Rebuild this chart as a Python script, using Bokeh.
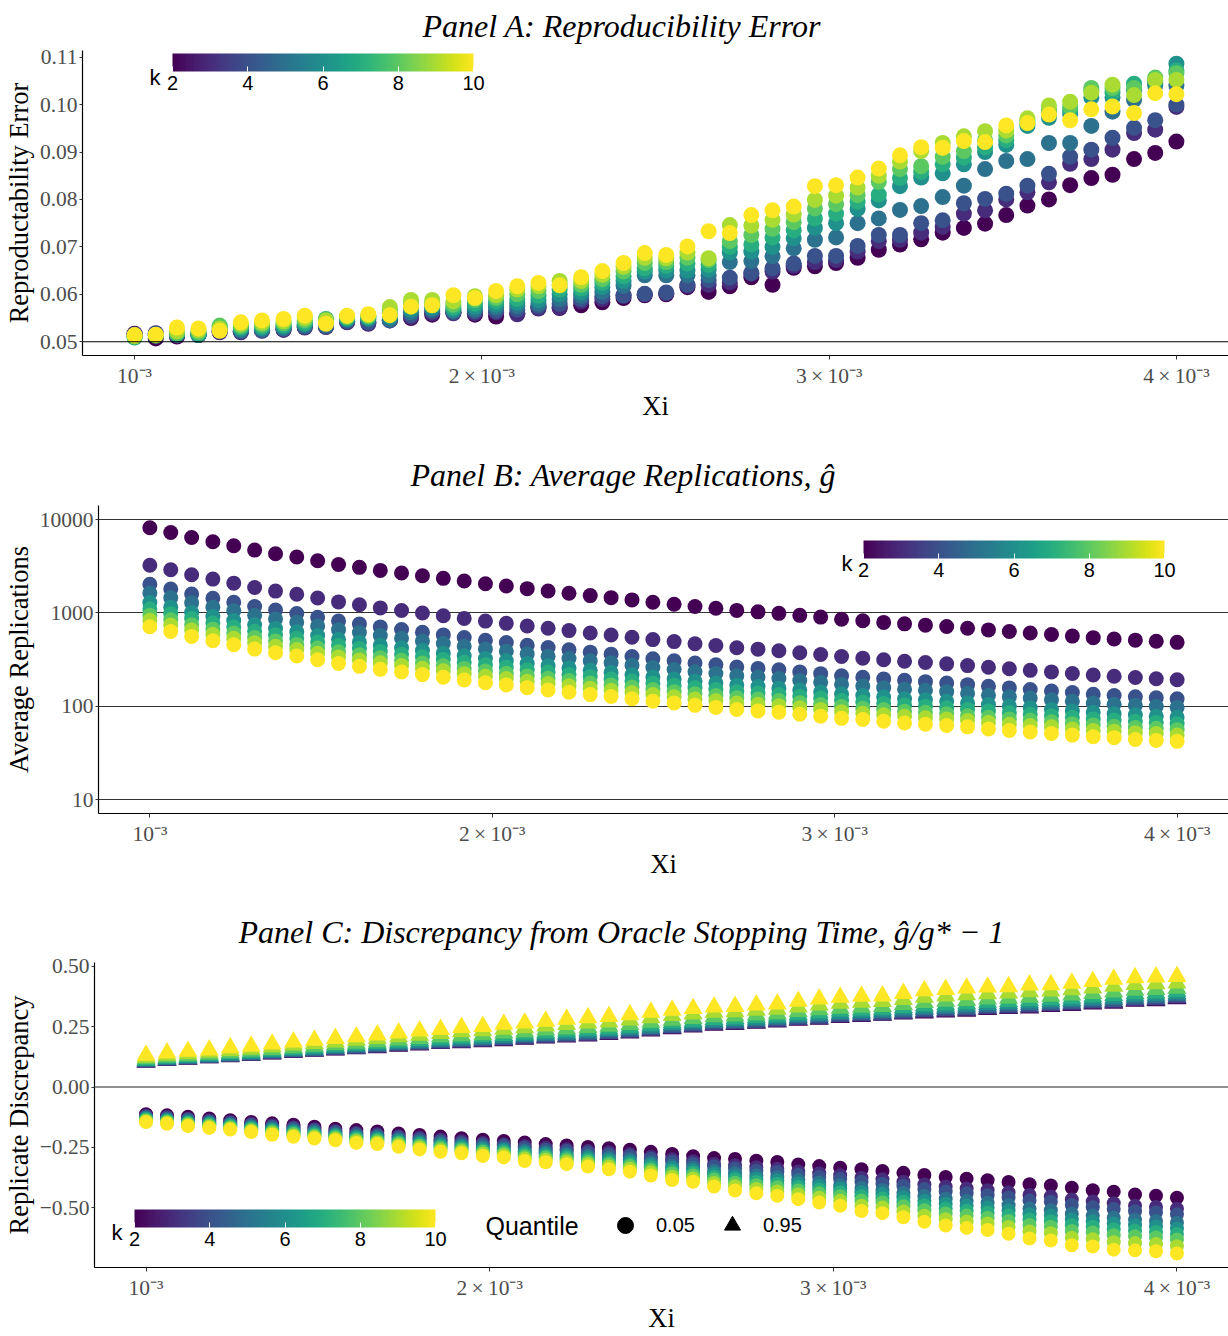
from bokeh.plotting import figure
from bokeh.models import (ColumnDataSource, Range1d, FixedTicker, CustomJSTickFormatter,
                          NumeralTickFormatter, ColorBar, LinearColorMapper, Span, Label,
                          Legend, LegendItem)
from bokeh.palettes import Viridis256
from bokeh.embed import file_html
from bokeh.resources import INLINE

# ---------------- data ----------------
XI = [0.001000, 0.001061, 0.001122, 0.001184, 0.001245, 0.001306, 0.001367, 0.001429, 0.001490, 0.001551,
      0.001612, 0.001673, 0.001735, 0.001796, 0.001857, 0.001918, 0.001980, 0.002041, 0.002102, 0.002163,
      0.002224, 0.002286, 0.002347, 0.002408, 0.002469, 0.002531, 0.002592, 0.002653, 0.002714, 0.002776,
      0.002837, 0.002898, 0.002959, 0.003020, 0.003082, 0.003143, 0.003204, 0.003265, 0.003327, 0.003388,
      0.003449, 0.003510, 0.003571, 0.003633, 0.003694, 0.003755, 0.003816, 0.003878, 0.003939, 0.004000]
K_LEVELS = [2, 3, 4, 5, 6, 7, 8, 9, 10]
CB_TICKS = [2, 4, 6, 8, 10]
XTICKS = [0.001, 0.002, 0.003, 0.004]
XTICK_LABELS = ["10\u207b\u00b3", "2\u2009\u00d7\u200910\u207b\u00b3",
                "3\u2009\u00d7\u200910\u207b\u00b3", "4\u2009\u00d7\u200910\u207b\u00b3"]
ERR_TICKS = [0.05, 0.06, 0.07, 0.08, 0.09, 0.10, 0.11]
REP_TICKS = [10, 100, 1000, 10000]
DISC_TICKS = [-0.50, -0.25, 0.0, 0.25, 0.50]
TARGET_ERROR = 0.05
ZERO_LINE = 0.0
QUANTILES = ["0.05", "0.95"]
TITLE_A = "Panel A: Reproducibility Error"
TITLE_B = "Panel B: Average Replications, \u011d"
TITLE_C = "Panel C: Discrepancy from Oracle Stopping Time, \u011d/g* \u2212 1"

# Panel A: reproducibility error
ERR_K2 = [0.0517, 0.0507, 0.0511, 0.0514, 0.0521, 0.0522, 0.0524, 0.0526, 0.0531, 0.0532,
          0.0542, 0.0540, 0.0546, 0.0550, 0.0557, 0.0562, 0.0557, 0.0553, 0.0560, 0.0572,
          0.0571, 0.0577, 0.0583, 0.0592, 0.0598, 0.0600, 0.0615, 0.0605, 0.0617, 0.0636,
          0.0620, 0.0656, 0.0659, 0.0666, 0.0677, 0.0694, 0.0705, 0.0716, 0.0730, 0.0740,
          0.0749, 0.0767, 0.0787, 0.0800, 0.0830, 0.0845, 0.0852, 0.0885, 0.0898, 0.0922]
ERR_K3 = [0.0516, 0.0518, 0.0513, 0.0515, 0.0520, 0.0520, 0.0523, 0.0525, 0.0530, 0.0531,
          0.0541, 0.0538, 0.0545, 0.0552, 0.0560, 0.0560, 0.0560, 0.0562, 0.0558, 0.0570,
          0.0572, 0.0585, 0.0590, 0.0598, 0.0600, 0.0602, 0.0618, 0.0620, 0.0625, 0.0643,
          0.0648, 0.0660, 0.0668, 0.0672, 0.0690, 0.0712, 0.0715, 0.0730, 0.0742, 0.0770,
          0.0777, 0.0800, 0.0815, 0.0836, 0.0875, 0.0885, 0.0905, 0.0940, 0.0947, 0.0995]
ERR_K4 = [0.0515, 0.0517, 0.0514, 0.0515, 0.0522, 0.0522, 0.0524, 0.0527, 0.0532, 0.0532,
          0.0543, 0.0541, 0.0545, 0.0556, 0.0564, 0.0562, 0.0564, 0.0565, 0.0568, 0.0575,
          0.0580, 0.0590, 0.0596, 0.0597, 0.0601, 0.0604, 0.0620, 0.0630, 0.0635, 0.0645,
          0.0655, 0.0665, 0.0681, 0.0681, 0.0702, 0.0725, 0.0725, 0.0750, 0.0756, 0.0792,
          0.0801, 0.0812, 0.0829, 0.0854, 0.0890, 0.0905, 0.0930, 0.0951, 0.0967, 0.1000]
ERR_K5 = [0.0514, 0.0515, 0.0515, 0.0514, 0.0524, 0.0524, 0.0526, 0.0529, 0.0534, 0.0535,
          0.0546, 0.0547, 0.0547, 0.0562, 0.0568, 0.0565, 0.0568, 0.0572, 0.0575, 0.0580,
          0.0590, 0.0597, 0.0605, 0.0618, 0.0640, 0.0640, 0.0640, 0.0640, 0.0668, 0.0670,
          0.0680, 0.0697, 0.0715, 0.0720, 0.0750, 0.0760, 0.0778, 0.0786, 0.0805, 0.0829,
          0.0864, 0.0881, 0.0885, 0.0919, 0.0919, 0.0955, 0.0985, 0.1010, 0.1040, 0.1040]
ERR_K6 = [0.0512, 0.0514, 0.0516, 0.0515, 0.0527, 0.0527, 0.0529, 0.0532, 0.0537, 0.0540,
          0.0548, 0.0550, 0.0552, 0.0568, 0.0572, 0.0568, 0.0574, 0.0578, 0.0582, 0.0588,
          0.0600, 0.0604, 0.0615, 0.0628, 0.0648, 0.0650, 0.0650, 0.0652, 0.0688, 0.0690,
          0.0700, 0.0718, 0.0740, 0.0750, 0.0780, 0.0798, 0.0828, 0.0846, 0.0855, 0.0874,
          0.0900, 0.0915, 0.0955, 0.0972, 0.0980, 0.1015, 0.1015, 0.1030, 0.1045, 0.1086]
ERR_K7 = [0.0509, 0.0513, 0.0517, 0.0517, 0.0532, 0.0530, 0.0532, 0.0535, 0.0540, 0.0548,
          0.0550, 0.0552, 0.0560, 0.0575, 0.0576, 0.0572, 0.0580, 0.0585, 0.0590, 0.0597,
          0.0610, 0.0612, 0.0624, 0.0638, 0.0655, 0.0660, 0.0665, 0.0662, 0.0700, 0.0705,
          0.0720, 0.0735, 0.0760, 0.0770, 0.0795, 0.0810, 0.0845, 0.0858, 0.0874, 0.0888,
          0.0910, 0.0925, 0.0960, 0.0982, 0.0988, 0.1030, 0.1025, 0.1044, 0.1050, 0.1072]
ERR_K8 = [0.0511, 0.0513, 0.0518, 0.0520, 0.0534, 0.0533, 0.0536, 0.0539, 0.0545, 0.0547,
          0.0552, 0.0554, 0.0568, 0.0582, 0.0582, 0.0578, 0.0588, 0.0592, 0.0600, 0.0607,
          0.0620, 0.0620, 0.0632, 0.0648, 0.0666, 0.0668, 0.0677, 0.0672, 0.0712, 0.0725,
          0.0738, 0.0752, 0.0781, 0.0790, 0.0809, 0.0837, 0.0864, 0.0870, 0.0890, 0.0902,
          0.0925, 0.0935, 0.0966, 0.0990, 0.0995, 0.1035, 0.1035, 0.1035, 0.1057, 0.1066]
ERR_K9 = [0.0512, 0.0514, 0.0522, 0.0524, 0.0528, 0.0537, 0.0540, 0.0543, 0.0550, 0.0545,
          0.0554, 0.0556, 0.0573, 0.0588, 0.0588, 0.0585, 0.0596, 0.0598, 0.0610, 0.0617,
          0.0628, 0.0628, 0.0641, 0.0658, 0.0677, 0.0676, 0.0688, 0.0676, 0.0746, 0.0745,
          0.0757, 0.0768, 0.0799, 0.0808, 0.0825, 0.0850, 0.0880, 0.0902, 0.0919, 0.0933,
          0.0944, 0.0945, 0.0971, 0.0998, 0.1006, 0.1025, 0.1042, 0.1020, 0.1052, 0.1052]
ERR_K10 = [0.0514, 0.0515, 0.0530, 0.0528, 0.0523, 0.0541, 0.0545, 0.0548, 0.0555, 0.0538,
           0.0555, 0.0558, 0.0556, 0.0574, 0.0577, 0.0598, 0.0592, 0.0607, 0.0617, 0.0624,
           0.0619, 0.0636, 0.0649, 0.0666, 0.0687, 0.0683, 0.0701, 0.0733, 0.0729, 0.0767,
           0.0777, 0.0785, 0.0828, 0.0830, 0.0846, 0.0865, 0.0893, 0.0910, 0.0909, 0.0923,
           0.0921, 0.0956, 0.0961, 0.0979, 0.0967, 0.0990, 0.0996, 0.0982, 0.1024, 0.1022]

# Panel B: average replications
REP_K2 = [8150, 7260, 6420, 5770, 5230, 4700, 4300, 3960, 3610, 3300,
          3070, 2850, 2670, 2500, 2340, 2190, 2050, 1940, 1815, 1715,
          1620, 1530, 1455, 1375, 1300, 1236, 1170, 1120, 1062, 1025,
          988, 940, 900, 855, 822, 790, 762, 738, 714, 684,
          656, 632, 608, 585, 563, 542, 525, 510, 496, 483]
REP_K3 = [3240, 2890, 2560, 2300, 2080, 1870, 1710, 1580, 1440, 1310,
          1220, 1130, 1060, 995, 931, 872, 816, 772, 722, 683,
          645, 609, 579, 547, 517, 492, 466, 446, 423, 408,
          393, 374, 358, 340, 327, 314, 303, 294, 284, 272,
          261, 252, 242, 233, 224, 216, 209, 203, 197, 192]
REP_K4 = [2020, 1800, 1590, 1430, 1300, 1170, 1070, 982, 895, 818,
          761, 707, 662, 620, 580, 543, 508, 481, 450, 425,
          402, 379, 361, 341, 322, 307, 290, 278, 263, 254,
          245, 233, 223, 212, 204, 196, 189, 183, 177, 170,
          163, 157, 151, 145, 140, 134, 130, 126, 123, 120]
REP_K5 = [1630, 1450, 1280, 1150, 1050, 940, 860, 792, 722, 660,
          614, 570, 534, 500, 468, 438, 410, 388, 363, 343,
          324, 306, 291, 275, 260, 247, 234, 224, 212, 205,
          198, 188, 180, 171, 164, 158, 152, 148, 143, 137,
          131, 126, 122, 117, 113, 108, 105, 102, 99, 97]
REP_K6 = [1290, 1150, 1010, 912, 826, 743, 679, 626, 570, 521,
          485, 450, 422, 395, 370, 346, 324, 307, 287, 271,
          256, 242, 230, 217, 205, 195, 185, 177, 168, 162,
          156, 149, 142, 135, 130, 125, 120, 117, 113, 108,
          104, 100, 96, 92, 89, 86, 83, 81, 78, 76]
REP_K7 = [1100, 980, 867, 779, 706, 635, 581, 535, 487, 446,
          414, 385, 360, 338, 316, 296, 277, 262, 245, 232,
          219, 207, 196, 186, 176, 167, 158, 151, 143, 138,
          133, 127, 122, 115, 111, 107, 103, 100, 96, 92,
          89, 85, 82, 79, 76, 73, 71, 69, 67, 65]
REP_K8 = [945, 842, 745, 669, 607, 545, 499, 459, 419, 383,
          356, 331, 310, 290, 271, 254, 238, 225, 211, 199,
          188, 177, 169, 160, 151, 143, 136, 130, 123, 119,
          115, 109, 104, 99, 95, 92, 88, 86, 83, 79,
          76, 73, 71, 68, 65, 63, 61, 59, 58, 56]
REP_K9 = [831, 741, 655, 589, 533, 479, 439, 404, 368, 337,
          313, 291, 272, 255, 239, 223, 209, 198, 185, 175,
          165, 156, 148, 140, 133, 126, 119, 114, 108, 105,
          101, 96, 92, 87, 84, 81, 78, 75, 73, 70,
          67, 64, 62, 60, 57, 55, 54, 52, 51, 49]
REP_K10 = [709, 632, 559, 502, 455, 409, 374, 345, 314, 287,
           267, 248, 232, 218, 204, 191, 178, 169, 158, 149,
           141, 133, 127, 120, 113, 108, 102, 97, 92, 89,
           86, 82, 78, 74, 72, 69, 66, 64, 62, 60,
           57, 55, 53, 51, 49, 47, 46, 44, 43, 42]

# Panel C: discrepancy, 0.05 quantile (circles)
Q05_K2 = [-0.112, -0.117, -0.123, -0.130, -0.137, -0.144, -0.150, -0.156, -0.164, -0.172,
          -0.178, -0.184, -0.192, -0.198, -0.205, -0.212, -0.218, -0.223, -0.229, -0.236,
          -0.242, -0.248, -0.253, -0.259, -0.268, -0.277, -0.286, -0.294, -0.298, -0.305,
          -0.310, -0.320, -0.327, -0.334, -0.340, -0.347, -0.355, -0.364, -0.372, -0.379,
          -0.386, -0.393, -0.402, -0.407, -0.417, -0.427, -0.433, -0.445, -0.450, -0.458]
Q05_K3 = [-0.119, -0.124, -0.131, -0.138, -0.145, -0.152, -0.159, -0.166, -0.174, -0.182,
          -0.189, -0.194, -0.203, -0.210, -0.218, -0.224, -0.231, -0.237, -0.244, -0.251,
          -0.257, -0.264, -0.270, -0.277, -0.288, -0.299, -0.307, -0.318, -0.324, -0.332,
          -0.338, -0.349, -0.357, -0.365, -0.375, -0.382, -0.392, -0.403, -0.412, -0.420,
          -0.427, -0.436, -0.447, -0.453, -0.465, -0.474, -0.481, -0.491, -0.496, -0.504]
Q05_K4 = [-0.122, -0.128, -0.134, -0.142, -0.149, -0.157, -0.164, -0.171, -0.179, -0.186,
          -0.194, -0.200, -0.209, -0.216, -0.224, -0.231, -0.238, -0.243, -0.252, -0.259,
          -0.265, -0.272, -0.279, -0.286, -0.297, -0.309, -0.318, -0.329, -0.337, -0.346,
          -0.352, -0.363, -0.372, -0.381, -0.392, -0.400, -0.410, -0.422, -0.432, -0.440,
          -0.448, -0.457, -0.470, -0.475, -0.488, -0.497, -0.505, -0.514, -0.519, -0.527]
Q05_K5 = [-0.127, -0.133, -0.140, -0.148, -0.155, -0.163, -0.171, -0.179, -0.186, -0.194,
          -0.202, -0.207, -0.217, -0.225, -0.233, -0.240, -0.248, -0.254, -0.264, -0.270,
          -0.277, -0.284, -0.292, -0.300, -0.312, -0.326, -0.334, -0.347, -0.357, -0.366,
          -0.373, -0.385, -0.395, -0.405, -0.418, -0.426, -0.438, -0.451, -0.462, -0.471,
          -0.479, -0.489, -0.503, -0.510, -0.524, -0.532, -0.541, -0.549, -0.554, -0.562]
Q05_K6 = [-0.130, -0.136, -0.144, -0.151, -0.158, -0.167, -0.176, -0.184, -0.191, -0.198,
          -0.207, -0.213, -0.222, -0.231, -0.240, -0.246, -0.255, -0.260, -0.271, -0.277,
          -0.284, -0.293, -0.301, -0.309, -0.322, -0.336, -0.344, -0.359, -0.370, -0.379,
          -0.387, -0.399, -0.410, -0.420, -0.435, -0.443, -0.456, -0.471, -0.483, -0.491,
          -0.499, -0.511, -0.526, -0.532, -0.548, -0.555, -0.565, -0.572, -0.577, -0.585]
Q05_K7 = [-0.133, -0.140, -0.148, -0.155, -0.162, -0.171, -0.181, -0.189, -0.196, -0.203,
          -0.212, -0.218, -0.228, -0.237, -0.246, -0.252, -0.262, -0.267, -0.279, -0.285,
          -0.292, -0.301, -0.310, -0.318, -0.332, -0.347, -0.355, -0.371, -0.383, -0.393,
          -0.401, -0.414, -0.425, -0.436, -0.452, -0.461, -0.475, -0.490, -0.503, -0.512,
          -0.520, -0.532, -0.548, -0.555, -0.572, -0.578, -0.589, -0.595, -0.600, -0.608]
Q05_K8 = [-0.137, -0.143, -0.152, -0.159, -0.166, -0.176, -0.185, -0.194, -0.201, -0.208,
          -0.218, -0.223, -0.233, -0.243, -0.252, -0.259, -0.268, -0.274, -0.287, -0.292,
          -0.300, -0.309, -0.318, -0.327, -0.342, -0.358, -0.366, -0.383, -0.396, -0.406,
          -0.415, -0.428, -0.440, -0.452, -0.470, -0.478, -0.493, -0.510, -0.523, -0.532,
          -0.541, -0.554, -0.571, -0.578, -0.596, -0.602, -0.613, -0.618, -0.623, -0.631]
Q05_K9 = [-0.141, -0.147, -0.156, -0.164, -0.171, -0.181, -0.191, -0.200, -0.207, -0.214,
          -0.224, -0.229, -0.240, -0.250, -0.260, -0.266, -0.276, -0.282, -0.296, -0.301,
          -0.309, -0.318, -0.329, -0.338, -0.353, -0.371, -0.378, -0.397, -0.411, -0.422,
          -0.432, -0.445, -0.458, -0.471, -0.491, -0.499, -0.515, -0.533, -0.547, -0.556,
          -0.565, -0.579, -0.598, -0.605, -0.624, -0.630, -0.642, -0.646, -0.650, -0.659]
Q05_K10 = [-0.145, -0.152, -0.161, -0.169, -0.176, -0.186, -0.197, -0.206, -0.213, -0.220,
           -0.231, -0.236, -0.247, -0.258, -0.268, -0.274, -0.285, -0.291, -0.306, -0.311,
           -0.319, -0.329, -0.340, -0.350, -0.366, -0.385, -0.392, -0.412, -0.428, -0.440,
           -0.450, -0.464, -0.478, -0.491, -0.513, -0.522, -0.539, -0.558, -0.573, -0.583,
           -0.592, -0.607, -0.627, -0.635, -0.655, -0.660, -0.673, -0.676, -0.680, -0.689]

# Panel C: discrepancy, 0.95 quantile (triangles)
Q95_K2 = [0.103, 0.110, 0.115, 0.121, 0.126, 0.131, 0.137, 0.143, 0.148, 0.154,
          0.159, 0.163, 0.169, 0.174, 0.180, 0.184, 0.188, 0.192, 0.198, 0.203,
          0.207, 0.212, 0.218, 0.224, 0.232, 0.242, 0.249, 0.256, 0.259, 0.264,
          0.270, 0.277, 0.281, 0.288, 0.292, 0.297, 0.303, 0.307, 0.311, 0.314,
          0.321, 0.325, 0.328, 0.334, 0.338, 0.344, 0.347, 0.355, 0.358, 0.366]
Q95_K3 = [0.104, 0.111, 0.116, 0.122, 0.127, 0.132, 0.138, 0.144, 0.149, 0.155,
          0.160, 0.165, 0.171, 0.176, 0.182, 0.186, 0.190, 0.194, 0.200, 0.205,
          0.209, 0.214, 0.220, 0.226, 0.234, 0.244, 0.251, 0.258, 0.261, 0.266,
          0.272, 0.279, 0.283, 0.290, 0.294, 0.299, 0.305, 0.310, 0.314, 0.317,
          0.324, 0.328, 0.331, 0.337, 0.341, 0.347, 0.350, 0.358, 0.361, 0.369]
Q95_K4 = [0.105, 0.112, 0.117, 0.123, 0.128, 0.133, 0.140, 0.146, 0.151, 0.157,
          0.162, 0.167, 0.173, 0.178, 0.184, 0.188, 0.192, 0.197, 0.203, 0.208,
          0.212, 0.217, 0.223, 0.229, 0.237, 0.247, 0.254, 0.261, 0.264, 0.269,
          0.275, 0.282, 0.286, 0.293, 0.297, 0.302, 0.308, 0.314, 0.318, 0.321,
          0.328, 0.332, 0.335, 0.340, 0.345, 0.351, 0.354, 0.362, 0.365, 0.373]
Q95_K5 = [0.107, 0.115, 0.120, 0.126, 0.131, 0.136, 0.143, 0.149, 0.154, 0.161,
          0.166, 0.171, 0.177, 0.183, 0.189, 0.193, 0.197, 0.202, 0.208, 0.213,
          0.218, 0.223, 0.229, 0.235, 0.243, 0.253, 0.260, 0.267, 0.270, 0.275,
          0.281, 0.288, 0.293, 0.300, 0.304, 0.308, 0.315, 0.321, 0.325, 0.328,
          0.335, 0.339, 0.342, 0.347, 0.352, 0.358, 0.362, 0.369, 0.372, 0.380]
Q95_K6 = [0.110, 0.117, 0.122, 0.128, 0.134, 0.139, 0.146, 0.153, 0.158, 0.164,
          0.170, 0.175, 0.182, 0.187, 0.193, 0.198, 0.202, 0.207, 0.213, 0.219,
          0.223, 0.229, 0.234, 0.241, 0.249, 0.259, 0.266, 0.273, 0.276, 0.281,
          0.286, 0.294, 0.299, 0.306, 0.310, 0.315, 0.322, 0.328, 0.332, 0.336,
          0.342, 0.346, 0.349, 0.354, 0.359, 0.365, 0.369, 0.377, 0.380, 0.387]
Q95_K7 = [0.112, 0.120, 0.126, 0.132, 0.138, 0.143, 0.150, 0.157, 0.163, 0.169,
          0.174, 0.180, 0.187, 0.193, 0.199, 0.204, 0.208, 0.214, 0.220, 0.225,
          0.231, 0.236, 0.242, 0.248, 0.257, 0.266, 0.273, 0.280, 0.283, 0.288,
          0.294, 0.302, 0.308, 0.315, 0.319, 0.322, 0.330, 0.337, 0.341, 0.345,
          0.351, 0.354, 0.359, 0.363, 0.368, 0.374, 0.379, 0.387, 0.390, 0.396]
Q95_K8 = [0.117, 0.125, 0.130, 0.136, 0.143, 0.149, 0.156, 0.163, 0.169, 0.176,
          0.182, 0.188, 0.195, 0.201, 0.208, 0.213, 0.217, 0.224, 0.229, 0.236,
          0.241, 0.247, 0.252, 0.259, 0.268, 0.277, 0.284, 0.291, 0.294, 0.299,
          0.304, 0.313, 0.320, 0.327, 0.331, 0.334, 0.342, 0.350, 0.355, 0.359,
          0.365, 0.368, 0.372, 0.376, 0.381, 0.388, 0.394, 0.401, 0.404, 0.409]
Q95_K9 = [0.124, 0.132, 0.138, 0.144, 0.152, 0.158, 0.166, 0.174, 0.181, 0.187,
          0.194, 0.201, 0.208, 0.215, 0.222, 0.229, 0.233, 0.240, 0.246, 0.253,
          0.259, 0.265, 0.270, 0.278, 0.287, 0.296, 0.303, 0.310, 0.312, 0.318,
          0.322, 0.332, 0.340, 0.347, 0.351, 0.354, 0.363, 0.372, 0.377, 0.382,
          0.387, 0.390, 0.395, 0.398, 0.403, 0.410, 0.418, 0.425, 0.428, 0.431]
Q95_K10 = [0.132, 0.141, 0.148, 0.154, 0.163, 0.169, 0.178, 0.187, 0.194, 0.201,
           0.208, 0.216, 0.224, 0.232, 0.239, 0.247, 0.251, 0.260, 0.265, 0.273,
           0.281, 0.287, 0.292, 0.300, 0.310, 0.318, 0.325, 0.332, 0.334, 0.340,
           0.344, 0.355, 0.365, 0.372, 0.376, 0.377, 0.388, 0.399, 0.404, 0.410,
           0.414, 0.416, 0.423, 0.424, 0.430, 0.437, 0.447, 0.453, 0.456, 0.458]

ERR = dict(zip(K_LEVELS, [ERR_K2, ERR_K3, ERR_K4, ERR_K5, ERR_K6, ERR_K7, ERR_K8, ERR_K9, ERR_K10]))
REP = dict(zip(K_LEVELS, [REP_K2, REP_K3, REP_K4, REP_K5, REP_K6, REP_K7, REP_K8, REP_K9, REP_K10]))
Q05 = dict(zip(K_LEVELS, [Q05_K2, Q05_K3, Q05_K4, Q05_K5, Q05_K6, Q05_K7, Q05_K8, Q05_K9, Q05_K10]))
Q95 = dict(zip(K_LEVELS, [Q95_K2, Q95_K3, Q95_K4, Q95_K5, Q95_K6, Q95_K7, Q95_K8, Q95_K9, Q95_K10]))
for table in (ERR, REP, Q05, Q95):
    for kk, vals in table.items():
        assert len(vals) == len(XI), (kk, len(vals))

# ---------------- styling helpers ----------------
SERIF = "Liberation Serif"
SANS = "Liberation Sans"
FIG_W = 1228
X_RANGE = (0.00085, 0.00415)


def kcolor(k):
    return Viridis256[round((k - K_LEVELS[0]) / (K_LEVELS[-1] - K_LEVELS[0]) * 255)]


def base_fig(title, height, top, bottom, left, y_range, ylabel, standoff, title_left,
             y_axis_type="linear"):
    p = figure(width=FIG_W, height=height, title=title,
               x_range=Range1d(*X_RANGE), y_range=y_range, y_axis_type=y_axis_type,
               output_backend="svg", toolbar_location=None,
               min_border_top=top, min_border_bottom=bottom,
               min_border_left=left, min_border_right=0)
    p.outline_line_color = None
    p.background_fill_color = "white"
    p.border_fill_color = "white"
    p.xgrid.visible = False
    p.ygrid.visible = False
    p.title.text_font = SERIF
    p.title.text_font_style = "italic"
    p.title.text_font_size = "32px"
    p.title.text_color = "black"
    p.title.align = "left"
    p.title.vertical_align = "top"
    p.title.standoff = standoff
    p.title.offset = title_left - left
    p.xaxis.axis_label = "Xi"
    p.yaxis.axis_label = ylabel
    p.xaxis.ticker = FixedTicker(ticks=XTICKS)
    p.xaxis.formatter = CustomJSTickFormatter(
        args=dict(labels=XTICK_LABELS),
        code="const i = Math.round(tick * 1000) - 1; return (i >= 0 && i < labels.length) ? labels[i] : '';")
    for ax in (p.xaxis[0], p.yaxis[0]):
        ax.axis_line_color = "black"
        ax.axis_line_width = 1.2
        ax.major_tick_line_color = "#333333"
        ax.minor_tick_line_color = None
        ax.major_tick_in = 0
        ax.major_label_text_font = SERIF
        ax.major_label_text_font_size = "21.5px"
        ax.major_label_text_color = "#4d4d4d"
        ax.axis_label_text_font = SERIF
        ax.axis_label_text_font_size = "26.5px"
        ax.axis_label_text_font_style = "normal"
        ax.axis_label_text_color = "black"
    p.xaxis.major_tick_out = 4
    p.xaxis.major_label_standoff = 4
    p.xaxis.axis_label_standoff = 0
    p.yaxis.major_tick_out = 3
    p.yaxis.major_label_standoff = 2
    p.yaxis.axis_label_standoff = 3
    return p


def add_colorbar(p, x, y, kx, ky):
    mapper = LinearColorMapper(palette=Viridis256, low=K_LEVELS[0], high=K_LEVELS[-1])
    cb = ColorBar(color_mapper=mapper, orientation="horizontal", location=(x, y),
                  width=301, height=18, padding=0, margin=0,
                  ticker=FixedTicker(ticks=CB_TICKS),
                  major_label_text_font=SANS, major_label_text_font_size="20px",
                  major_label_text_color="black", label_standoff=4,
                  major_tick_line_color="white", major_tick_in=5, major_tick_out=0,
                  minor_tick_line_color=None, bar_line_color=None,
                  border_line_color=None, background_fill_color=None)
    p.add_layout(cb)
    p.add_layout(Label(x=kx, y=ky, x_units="screen", y_units="screen", text="k",
                       text_font=SANS, text_font_size="22px", text_color="black",
                       text_align="right", text_baseline="middle"))


def add_points(p, table, marker, size):
    for k in K_LEVELS:
        src = ColumnDataSource(dict(x=XI, y=table[k]))
        p.scatter(x="x", y="y", source=src, marker=marker, size=size,
                  fill_color=kcolor(k), line_color=None)


# ---------------- Panel A ----------------
pA = base_fig(TITLE_A, 440, 50, 85, 82, Range1d(0.0471, 0.1114),
              "Reproductability Error", standoff=10, title_left=422)
pA.yaxis.ticker = FixedTicker(ticks=ERR_TICKS)
pA.yaxis.formatter = NumeralTickFormatter(format="0.00")
add_points(pA, ERR, "circle", 16)
pA.add_layout(Span(location=TARGET_ERROR, dimension="width", line_color="black", line_width=1.2))
add_colorbar(pA, 90, 263, 78, 278)

# ---------------- Panel B ----------------
pB = base_fig(TITLE_B, 455, 65, 82, 97, Range1d(10 ** 0.85, 10 ** 4.15),
              "Average Replications", standoff=22, title_left=409, y_axis_type="log")
pB.yaxis.ticker = FixedTicker(ticks=REP_TICKS)
pB.yaxis.formatter = CustomJSTickFormatter(code="return tick.toFixed(0);")
pB.ygrid.visible = True
pB.ygrid.ticker = FixedTicker(ticks=REP_TICKS)
pB.ygrid.grid_line_color = "#333333"
pB.ygrid.grid_line_width = 1.1
add_points(pB, REP, "circle", 15)
add_colorbar(pB, 765, 234, 754, 250)

# ---------------- Panel C ----------------
pC = base_fig(TITLE_C, 440, 67, 67, 93, Range1d(-0.747, 0.516),
              "Replicate Discrepancy", standoff=21, title_left=237)
pC.yaxis.ticker = FixedTicker(ticks=DISC_TICKS)
pC.yaxis.formatter = CustomJSTickFormatter(
    code="return (tick < -1e-9 ? '\u2212' : '') + Math.abs(tick).toFixed(2);")
pC.add_layout(Span(location=ZERO_LINE, dimension="width", line_color="#6b6b6b", line_width=1.5))
add_points(pC, Q95, "triangle", 19)
add_points(pC, Q05, "circle", 14)
add_colorbar(pC, 40, 19, 28, 35)

NAN = float("nan")
r_circ = pC.scatter(x=[NAN], y=[NAN], marker="circle", size=14, color="black")
r_tri = pC.scatter(x=[NAN], y=[NAN], marker="triangle", size=18, color="black")
leg = Legend(items=[LegendItem(label=QUANTILES[0], renderers=[r_circ]),
                    LegendItem(label=QUANTILES[1], renderers=[r_tri])],
             location=(511, 22), orientation="horizontal",
             glyph_width=40, glyph_height=40, label_standoff=11, spacing=17,
             padding=0, margin=0, label_text_font=SANS, label_text_font_size="20px",
             label_text_color="black", background_fill_alpha=0, border_line_alpha=0)
pC.add_layout(leg)
pC.add_layout(Label(x=391, y=42, x_units="screen", y_units="screen", text="Quantile",
                    text_font=SANS, text_font_size="25px", text_color="black",
                    text_align="left", text_baseline="middle"))

open("out.html", "w").write(file_html([pA, pB, pC], INLINE))
